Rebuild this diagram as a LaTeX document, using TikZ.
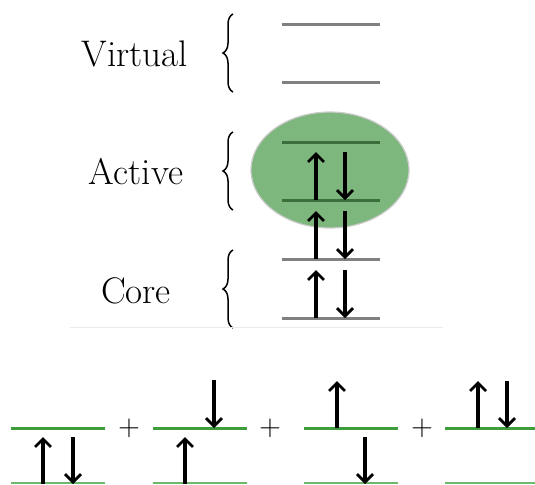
\documentclass[tikz,border=0pt]{standalone}
\usetikzlibrary{arrows.meta,decorations.pathreplacing}
\definecolor{lvlgray}{HTML}{808080}
\definecolor{actgreen}{HTML}{3C6E3B}
\definecolor{blobgreen}{HTML}{7EB77D}
\definecolor{occgreen}{HTML}{3E9E3E}
\definecolor{lowgreen}{HTML}{6DB86D}
\tikzset{
  lvl/.style={line width=1.5pt, draw=lvlgray},
  actlvl/.style={line width=1.5pt, draw=actgreen},
  occlvl/.style={line width=1.5pt, draw=occgreen},
  lowlvl/.style={line width=1pt, draw=lowgreen},
  spin/.style={line width=1.6pt, -{Straight Barb[length=4pt,width=8pt,line width=1.4pt]}},
  curly/.style={decorate, decoration={brace, amplitude=5pt}, line width=0.75pt},
  label/.style={font=\fontsize{18.5}{22}\selectfont, inner sep=0pt},
  plus/.style={font=\fontsize{14}{16}\selectfont, inner sep=0pt}
}
\begin{document}
\begin{tikzpicture}[x=0.5pt,y=-0.5pt]
\useasboundingbox (0,0) rectangle (535,484);

% active-space blob
\fill[blobgreen, draw=black!20, line width=0.6pt] (330,170) ellipse [x radius=79, y radius=58];

% orbital levels of the upper scheme
\draw[lvl] (282,24) coordinate (v2l) -- (380,24) coordinate (v2r);
\draw[lvl] (282,82) coordinate (v1l) -- (380,82) coordinate (v1r);
\draw[actlvl] (282,142) coordinate (a2l) -- (380,142) coordinate (a2r);
\draw[actlvl] (282,200) coordinate (a1l) -- (380,200) coordinate (a1r);
\draw[lvl] (282,259) coordinate (c2l) -- (380,259) coordinate (c2r);
\draw[lvl] (282,318) coordinate (c1l) -- (380,318) coordinate (c1r);

% electron pairs
\coordinate (u3s) at (316,200); \coordinate (u3e) at (316,152);
\coordinate (d3s) at (345,152); \coordinate (d3e) at (345,200);
\coordinate (u2s) at (316,259); \coordinate (u2e) at (316,211);
\coordinate (d2s) at (345,211); \coordinate (d2e) at (345,259);
\coordinate (u1s) at (316,318); \coordinate (u1e) at (316,270);
\coordinate (d1s) at (345,270); \coordinate (d1e) at (345,318);
\draw[spin] (u3s) -- (u3e); \draw[spin] (d3s) -- (d3e);
\draw[spin] (u2s) -- (u2e); \draw[spin] (d2s) -- (d2e);
\draw[spin] (u1s) -- (u1e); \draw[spin] (d1s) -- (d1e);

% braces and space labels
\draw[curly] (233,92) -- (233,14);
\draw[curly] (233,210) -- (233,132);
\draw[curly] (233,328) -- (233,250);
\node[label] (virt) at (135,54) {Virtual};
\node[label] (act) at (136,172) {Active};
\node[label] (core) at (136,291) {Core};

% faint separator
\draw[black!8, line width=0.5pt] (70,327) coordinate (sepl) -- (443,327) coordinate (sepr);

% configurations of the lower row
\foreach \x [count=\i] in {11,153,304,445} {
  \draw[occlvl] (\x,428) coordinate (t\i l) -- (\x+94,428) coordinate (t\i r);
  \draw[lowlvl] (\x,483) coordinate (b\i l) -- (\x+94,483) coordinate (b\i r);
}
% 1: both in lower level
\draw[spin] (43,484) -- (43,437);
\draw[spin] (73,437) -- (73,484);
% 2: up lower, down upper
\draw[spin] (185,484) -- (185,437);
\draw[spin] (214,380) -- (214,428);
% 3: up upper, down lower
\draw[spin] (337,428) -- (337,381);
\draw[spin] (365,437) -- (365,484);
% 4: both in upper level
\draw[spin] (478,428) -- (478,381);
\draw[spin] (507,381) -- (507,428);

\node[plus] (p1) at (129,428) {$+$};
\node[plus] (p2) at (270,428) {$+$};
\node[plus] (p3) at (422,428) {$+$};
\end{tikzpicture}
\end{document}
